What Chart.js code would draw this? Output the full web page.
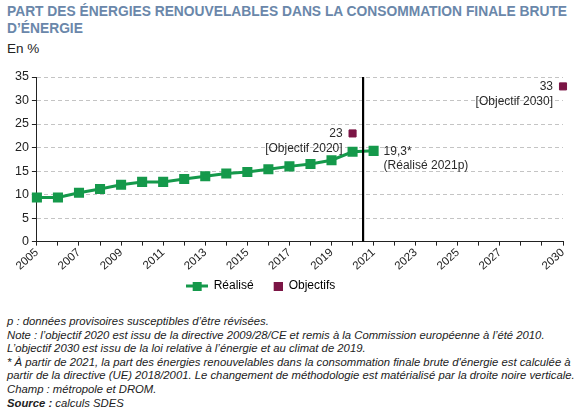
<!DOCTYPE html>
<html>
<head>
<meta charset="utf-8">
<script src="https://cdn.jsdelivr.net/npm/chart.js@4"></script>
<style>
  body { margin: 0; background: #fff; font-family: "Liberation Sans", Arial, sans-serif; }
  #wrap { position: relative; width: 581px; height: 418px; overflow: hidden; }
  #titre { position: absolute; left: 7px; top: 3px; width: 570px; font-weight: bold; font-size: 13.8px; line-height: 17px; color: #6a87aa; }
  #unite { position: absolute; left: 7px; top: 41px; font-size: 13.5px; color: #222; }
  #box { position: absolute; left: 0; top: 62px; width: 581px; height: 244px; }
  #notes { position: absolute; left: 7px; top: 315px; font-size: 11.3px; line-height: 13.6px; font-style: italic; color: #222; }
</style>
</head>
<body>
<div id="wrap">
  <div id="titre">PART DES ÉNERGIES RENOUVELABLES DANS LA CONSOMMATION FINALE BRUTE D’ÉNERGIE</div>
  <div id="unite">En %</div>
  <div id="box"><canvas id="myChart"></canvas></div>
  <div id="notes">
    p : données provisoires susceptibles d’être révisées.<br>
    Note : l’objectif 2020 est issu de la directive 2009/28/CE et remis à la Commission européenne à l’été 2010.<br>
    L’objectif 2030 est issu de la loi relative à l’énergie et au climat de 2019.<br>
    * À partir de 2021, la part des énergies renouvelables dans la consommation finale brute d'énergie est calculée à<br>
    partir de la directive (UE) 2018/2001. Le changement de méthodologie est matérialisé par la droite noire verticale.<br>
    Champ : métropole et DROM.<br>
    <b>Source :</b> calculs SDES
  </div>
</div>
<script>
'use strict'
// données
var years = [2005, 2006, 2007, 2008, 2009, 2010, 2011, 2012, 2013, 2014, 2015, 2016, 2017, 2018, 2019, 2020, 2021];
var realise = [9.4, 9.4, 10.4, 11.2, 12.1, 12.7, 12.7, 13.3, 13.9, 14.5, 14.8, 15.4, 16.0, 16.5, 17.3, 19.1, 19.3];
var objYears = [2020, 2030];
var objValues = [23, 33];
var tickLabels = [2005, 2007, 2009, 2011, 2013, 2015, 2017, 2019, 2021, 2023, 2025, 2027, 2030];
var breakYear = 2020.5;

var green = '#15994b';
var maroon = '#7b1545';
var font = '"Liberation Sans", Arial, sans-serif';

// icones de legende : ligne + carre, et carre seul (marge a gauche)
var legIcon = document.createElement('canvas');
legIcon.width = 22;
legIcon.height = 9;
var ic = legIcon.getContext('2d');
ic.fillStyle = green;
ic.fillRect(0, 3, 22, 3);
ic.fillRect(7, 0, 9, 9);

var legSquare = document.createElement('canvas');
legSquare.width = 22;
legSquare.height = 9;
var sq = legSquare.getContext('2d');
sq.fillStyle = maroon;
sq.fillRect(13, 0, 9, 9);

var notes = {
    id: 'notes',
    afterLayout: function(chart) {
        // legende un peu decalee vers la gauche comme sur l'original
        chart.legend.left -= 27;
        chart.legend.right -= 27;
    },
    afterDatasetsDraw: function(chart) {
        var ctx = chart.ctx;
        var x = chart.scales.x;
        var y = chart.scales.y;
        var area = chart.chartArea;
        ctx.save();
        // droite noire : changement de methode
        var bx = x.getPixelForValue(breakYear);
        ctx.strokeStyle = '#000';
        ctx.lineWidth = 2.2;
        ctx.beginPath();
        ctx.moveTo(bx, area.top);
        ctx.lineTo(bx, area.bottom);
        ctx.stroke();

        ctx.font = '12px ' + font;
        ctx.fillStyle = '#2a2a2a';
        ctx.textBaseline = 'middle';
        ctx.textAlign = 'right';
        for (let i = 0; i < objYears.length; i++) {
            var px = x.getPixelForValue(objYears[i]) - 10;
            var py = y.getPixelForValue(objValues[i]);
            ctx.fillText(String(objValues[i]), px, py);
            ctx.fillText('[Objectif ' + objYears[i] + ']', px, py + 15);
        }
        var last = realise.length - 1;
        var lx = x.getPixelForValue(years[last]) + 10;
        var ly = y.getPixelForValue(realise[last]);
        ctx.textAlign = 'left';
        ctx.fillText(String(realise[last]).replace('.', ',') + '*', lx, ly + 1);
        ctx.fillText('(Réalisé ' + years[last] + 'p)', lx, ly + 15);
        ctx.restore();
    }
};

var ctx = document.getElementById('myChart').getContext('2d');

var chart = new Chart(ctx, {
    type: 'line',
    data: {
        datasets: [{
            label: 'Réalisé',
            data: years.map(function(yr, i) { return { x: yr, y: realise[i] }; }),
            borderColor: green,
            backgroundColor: green,
            borderWidth: 3,
            pointStyle: 'rect',
            pointRadius: 5,
            pointHoverRadius: 5,
            tension: 0,
            clip: false
        }, {
            label: 'Objectifs',
            data: objYears.map(function(yr, i) { return { x: yr, y: objValues[i] }; }),
            borderColor: maroon,
            backgroundColor: maroon,
            showLine: false,
            pointStyle: 'rect',
            pointRadius: 5,
            pointHoverRadius: 5,
            clip: false
        }]
    },
    options: {
        responsive: true,
        maintainAspectRatio: false,
        animation: false,
        layout: { padding: { left: 12, right: 18, top: 15, bottom: 4 } },
        scales: {
            x: {
                type: 'linear',
                min: 2005,
                max: 2030,
                afterBuildTicks: function(axis) {
                    var t = [];
                    for (let v = 2005; v <= 2030; v++) t.push({ value: v });
                    axis.ticks = t;
                },
                ticks: {
                    autoSkip: false,
                    maxRotation: 42,
                    minRotation: 42,
                    padding: 0,
                    color: '#222',
                    font: { family: font, size: 11.5 },
                    callback: function(v) { return tickLabels.includes(v) ? String(v) : ''; }
                },
                grid: { display: true, drawOnChartArea: false, color: '#222', tickLength: 4 },
                border: { display: true, color: '#222', width: 1 }
            },
            y: {
                min: 0,
                max: 35,
                ticks: { stepSize: 5, color: '#222', padding: 3, font: { family: font, size: 12.5 } },
                grid: { color: '#c4c4c4', tickLength: 5, tickColor: '#222' },
                border: { display: true, color: '#222', width: 1, dash: [4, 3] }
            }
        },
        plugins: {
            legend: {
                position: 'bottom',
                labels: {
                    usePointStyle: true,
                    pointStyleWidth: 22,
                    color: '#222',
                    padding: 7,
                    font: { family: font, size: 12 },
                    generateLabels: function(chart) {
                        return [
                            { text: 'Réalisé', pointStyle: legIcon, fillStyle: green, strokeStyle: green, lineWidth: 0, datasetIndex: 0 },
                            { text: 'Objectifs', pointStyle: legSquare, fillStyle: maroon, strokeStyle: maroon, lineWidth: 0, datasetIndex: 1 }
                        ];
                    }
                }
            },
            tooltip: { enabled: false }
        }
    },
    plugins: [notes]
});
</script>
</body>
</html>
